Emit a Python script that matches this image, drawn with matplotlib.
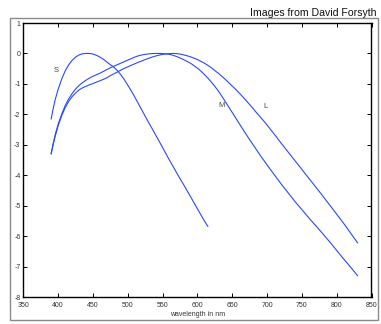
import numpy as np
import matplotlib
matplotlib.use("Agg")
import matplotlib.pyplot as plt
from matplotlib.patches import Rectangle

# Log cone sensitivities (S, M, L) against wavelength
s_wl = [390, 393, 396, 400, 405, 410, 415, 420, 425, 430, 435, 440, 445, 450,
        455, 460, 465, 470, 475, 480, 485, 490, 495, 500, 505, 510, 515, 520,
        525, 530, 535, 540, 545, 550, 555, 560, 565, 570, 575, 580, 585, 590,
        595, 600, 605, 610, 615]
s_val = [-2.15, -1.8, -1.5, -1.18, -0.85, -0.58, -0.38, -0.23, -0.12, -0.05,
         -0.01, 0.0, 0.0, -0.02, -0.06, -0.12, -0.19, -0.28, -0.37, -0.45,
         -0.56, -0.7, -0.86, -1.04, -1.23, -1.43, -1.64, -1.85, -2.06, -2.27,
         -2.47, -2.68, -2.88, -3.09, -3.3, -3.51, -3.71, -3.91, -4.11, -4.3,
         -4.5, -4.7, -4.9, -5.1, -5.3, -5.5, -5.68]

ml_wl = [390, 393, 396, 400, 405, 410, 415, 420, 425, 430, 435, 440, 445, 450,
         455, 460, 465, 470, 475, 480, 485, 490, 495, 500, 505, 510, 515, 520,
         525, 530, 535, 540, 545, 550, 555, 560, 565, 570, 575, 580, 585, 590,
         595, 600, 605, 610, 615, 620, 625, 630, 635, 640, 645, 650, 655, 660,
         665, 670, 675, 680, 685, 690, 695, 700, 710, 720, 730, 740, 750, 760,
         770, 780, 790, 800, 810, 820, 830]
m_val = [-3.28, -2.95, -2.65, -2.33, -2.0, -1.72, -1.5, -1.32, -1.17, -1.05,
         -0.96, -0.88, -0.81, -0.75, -0.7, -0.65, -0.59, -0.53, -0.47, -0.42,
         -0.37, -0.32, -0.27, -0.22, -0.17, -0.12, -0.08, -0.05, -0.03, -0.015,
         -0.005, 0.0, 0.0, -0.005, -0.015, -0.03, -0.06, -0.1, -0.15, -0.2,
         -0.26, -0.32, -0.4, -0.48, -0.58, -0.69, -0.81, -0.94, -1.08, -1.23,
         -1.4, -1.58, -1.76, -1.94, -2.12, -2.3, -2.48, -2.66, -2.83, -3.0,
         -3.17, -3.34, -3.5, -3.66, -3.97, -4.28, -4.57, -4.86, -5.13, -5.4,
         -5.66, -5.92, -6.19, -6.47, -6.75, -7.02, -7.3]
l_val = [-3.3, -2.98, -2.7, -2.38, -2.05, -1.79, -1.58, -1.42, -1.3, -1.2,
         -1.13, -1.08, -1.03, -0.99, -0.94, -0.9, -0.85, -0.8, -0.73, -0.67,
         -0.61, -0.55, -0.49, -0.44, -0.39, -0.34, -0.29, -0.25, -0.2, -0.16,
         -0.12, -0.085, -0.055, -0.03, -0.015, -0.005, 0.0, -0.005, -0.02,
         -0.045, -0.075, -0.11, -0.155, -0.2, -0.26, -0.32, -0.39, -0.47,
         -0.56, -0.65, -0.75, -0.85, -0.96, -1.07, -1.18, -1.3, -1.42, -1.55,
         -1.68, -1.81, -1.95, -2.08, -2.21, -2.35, -2.64, -2.94, -3.23, -3.52,
         -3.81, -4.1, -4.39, -4.68, -4.98, -5.28, -5.58, -5.9, -6.22]

x_ticks = [350, 400, 450, 500, 550, 600, 650, 700, 750, 800, 850]
y_ticks = [-8, -7, -6, -5, -4, -3, -2, -1, 0, 1]

W, H = 381, 324
fig = plt.figure(figsize=(W / 100, H / 100), dpi=100)
fig.patch.set_facecolor("white")

# gray outer frame around the plot window
fig.add_artist(Rectangle((10 / W, 1 - 320 / H), 368 / W, 302 / H,
                         transform=fig.transFigure, fill=False,
                         edgecolor="#8a8a8a", linewidth=1.0))

fig.text(377 / W, 1 - 15.5 / H, "Images from David Forsyth", ha="right",
         va="baseline", fontsize=7.6, family="Liberation Sans", color="#111111")

ax = fig.add_axes([23.3 / W, 1 - 297 / H, (371.5 - 23.3) / W, 274 / H])
line_kw = dict(color="#2a48ff", linewidth=0.8)
ax.plot(s_wl, s_val, **line_kw)
ax.plot(ml_wl, m_val, **line_kw)
ax.plot(ml_wl, l_val, **line_kw)

lab_kw = dict(fontsize=5.5, color="#444444", family="Liberation Sans",
              ha="center", va="center")
ax.text(397, -0.55, "S", **lab_kw)
ax.text(635, -1.7, "M", **lab_kw)
ax.text(698, -1.75, "L", **lab_kw)

ax.set_xlim(350, 850)
ax.set_ylim(-8, 1)
ax.set_xticks(x_ticks)
ax.set_yticks(y_ticks)
ax.set_xticklabels([str(v) for v in x_ticks])
ax.set_yticklabels([str(v) for v in y_ticks])
ax.tick_params(direction="in", length=3, width=0.7, labelsize=5,
               labelcolor="#333333", top=True, right=True)
ax.tick_params(axis="x", pad=3.5)
ax.tick_params(axis="y", pad=2)
for lab in ax.get_xticklabels() + ax.get_yticklabels():
    lab.set_family("Liberation Sans")
for sp in ax.spines.values():
    sp.set_linewidth(1.0)
    sp.set_color("black")
ax.set_xlabel("wavelength in nm", fontsize=5, family="Liberation Sans",
              color="#333333", labelpad=1.5)

fig.savefig("out.png", dpi=100)
